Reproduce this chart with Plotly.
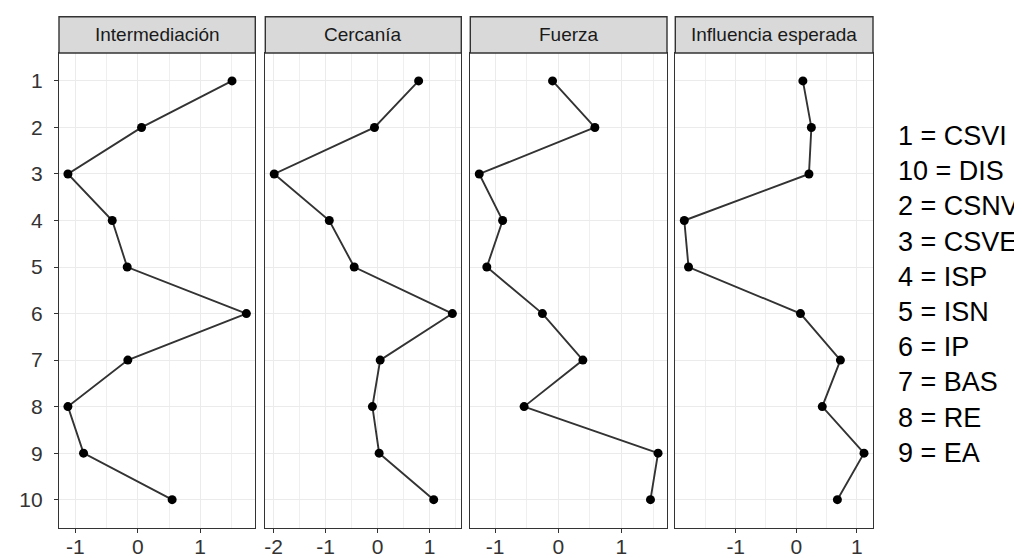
import plotly.graph_objects as go

# ---- data ----
nodes = [1, 2, 3, 4, 5, 6, 7, 8, 9, 10]
node_names = ["CSVI", "CSNV", "CSVE", "ISP", "ISN", "IP", "BAS", "RE", "EA", "DIS"]
panels = ["Intermediación", "Cercanía", "Fuerza", "Influencia esperada"]
intermediacion = [1.51, 0.06, -1.12, -0.41, -0.17, 1.74, -0.16, -1.12, -0.87, 0.55]
cercania = [0.79, -0.06, -1.99, -0.93, -0.45, 1.44, 0.05, -0.10, 0.03, 1.08]
fuerza = [-0.09, 0.58, -1.25, -0.88, -1.13, -0.25, 0.39, -0.54, 1.58, 1.46]
influencia = [0.11, 0.25, 0.21, -1.85, -1.78, 0.07, 0.73, 0.43, 1.12, 0.68]
x_ticks = [[-1, 0, 1], [-2, -1, 0, 1], [-1, 0, 1], [-1, 0, 1]]
series = [intermediacion, cercania, fuerza, influencia]

W, H = 1022, 558
# panel pixel geometry
px_left = [51, 257.3, 462.3, 667.3]
px_right = [247.3, 453.3, 659, 865]
panel_top, panel_bot = 45.0, 519.6
strip_top = 8.7

fig = go.Figure()
for i, (name, vals) in enumerate(zip(panels, series)):
    idx = "" if i == 0 else str(i + 1)
    fig.add_trace(go.Scatter(
        x=vals, y=nodes, mode="lines+markers",
        line=dict(color="#333333", width=1.9),
        marker=dict(color="black", size=9),
        xaxis="x" + idx, yaxis="y" + idx, showlegend=False,
        hoverinfo="x+y"))
    lo, hi = min(vals), max(vals)
    span = hi - lo
    xr = [lo - 0.05 * span, hi + 0.05 * span]
    minor_vals = [v + 0.5 for v in range(-3, 3)]
    fig.layout["xaxis" + idx] = dict(
        domain=[px_left[i] / W, px_right[i] / W], range=xr,
        tickmode="array", tickvals=x_ticks[i], ticktext=[str(t) for t in x_ticks[i]],
        ticks="outside", ticklen=4, tickwidth=1.1, tickcolor="#333333",
        tickfont=dict(family="Liberation Sans, Arial", size=21, color="#333333"),
        showgrid=True, gridcolor="#EBEBEB", gridwidth=1.2,
        minor=dict(tickmode="array", tickvals=minor_vals, showgrid=True,
                   gridcolor="#EFEFEF", gridwidth=1, ticks=""),
        showline=True, mirror=True, linecolor="#333333", linewidth=1.4,
        zeroline=False, anchor="y" + idx, ticklabelstandoff=-4)
    fig.layout["yaxis" + idx] = dict(
        domain=[1 - panel_bot / H, 1 - panel_top / H], range=[10.6, 0.4],
        tickmode="array", tickvals=nodes, ticktext=[str(n) for n in nodes],
        showticklabels=(i == 0), ticks="outside" if i == 0 else "",
        ticklen=4, tickwidth=1.1, tickcolor="#333333",
        tickfont=dict(family="Liberation Sans, Arial", size=21, color="#333333"),
        showgrid=True, gridcolor="#EBEBEB", gridwidth=1.2,
        showline=True, mirror=True, linecolor="#333333", linewidth=1.4,
        zeroline=False, anchor="x" + idx, ticklabelstandoff=7)
    # strip
    fig.add_shape(type="rect", xref="paper", yref="paper",
                  x0=px_left[i] / W, x1=px_right[i] / W,
                  y0=1 - panel_top / H, y1=1 - strip_top / H,
                  fillcolor="#D9D9D9", line=dict(color="#333333", width=1.4), layer="above")
    fig.add_annotation(text=name, xref="paper", yref="paper",
                       x=(px_left[i] + px_right[i]) / 2 / W,
                       y=1 - (panel_top + strip_top) / 2 / H,
                       showarrow=False, xanchor="center", yanchor="middle",
                       font=dict(family="Liberation Sans, Arial", size=19, color="#1A1A1A"))

# legend-like labels (sorted as text, like a factor)
labels = sorted([f"{n} = {nm}" for n, nm in zip(nodes, node_names)])
leg_y0, leg_dy = 128.0, 35.2
for k, lab in enumerate(labels):
    fig.add_annotation(text=lab, xref="paper", yref="paper",
                       x=888 / W, y=1 - (leg_y0 + k * leg_dy) / H,
                       showarrow=False, xanchor="left", yanchor="middle",
                       font=dict(family="Liberation Sans, Arial", size=27, color="black"))

fig.update_layout(width=W, height=H, margin=dict(l=0, r=0, t=0, b=0),
                  paper_bgcolor="white", plot_bgcolor="white",
                  font=dict(family="Liberation Sans, Arial"))
fig.write_html("out.html")
